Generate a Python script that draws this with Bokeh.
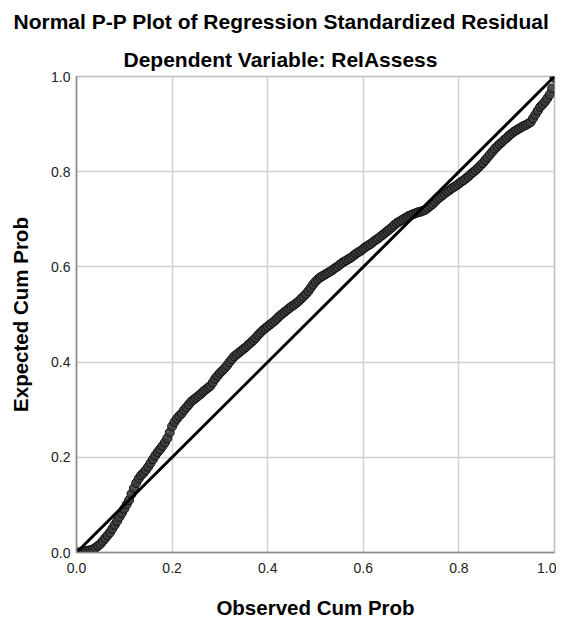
from bokeh.plotting import figure
from bokeh.models import Title, FixedTicker, CustomJSTickFormatter, Range1d, ColumnDataSource
from bokeh.embed import file_html
from bokeh.resources import INLINE

observed_cum_prob = [
    0.000, 0.005, 0.010, 0.015, 0.020, 0.025, 0.030, 0.035, 0.040, 0.045,
    0.050, 0.055, 0.060, 0.065, 0.070, 0.075, 0.080, 0.085, 0.090, 0.095,
    0.100, 0.105, 0.110, 0.115, 0.120, 0.125, 0.130, 0.135, 0.140, 0.145,
    0.150, 0.155, 0.160, 0.165, 0.170, 0.175, 0.180, 0.185, 0.190, 0.195,
    0.200, 0.205, 0.210, 0.215, 0.220, 0.225, 0.230, 0.235, 0.240, 0.245,
    0.250, 0.255, 0.260, 0.265, 0.270, 0.275, 0.280, 0.285, 0.290, 0.295,
    0.300, 0.305, 0.310, 0.315, 0.320, 0.325, 0.330, 0.335, 0.340, 0.345,
    0.350, 0.355, 0.360, 0.365, 0.370, 0.375, 0.380, 0.385, 0.390, 0.395,
    0.400, 0.405, 0.410, 0.415, 0.420, 0.425, 0.430, 0.435, 0.440, 0.445,
    0.450, 0.455, 0.460, 0.465, 0.470, 0.475, 0.480, 0.485, 0.490, 0.495,
    0.500, 0.505, 0.510, 0.515, 0.520, 0.525, 0.530, 0.535, 0.540, 0.545,
    0.550, 0.555, 0.560, 0.565, 0.570, 0.575, 0.580, 0.585, 0.590, 0.595,
    0.600, 0.605, 0.610, 0.615, 0.620, 0.625, 0.630, 0.635, 0.640, 0.645,
    0.650, 0.655, 0.660, 0.665, 0.670, 0.675, 0.680, 0.685, 0.690, 0.695,
    0.700, 0.705, 0.710, 0.715, 0.720, 0.725, 0.730, 0.735, 0.740, 0.745,
    0.750, 0.755, 0.760, 0.765, 0.770, 0.775, 0.780, 0.785, 0.790, 0.795,
    0.800, 0.805, 0.810, 0.815, 0.820, 0.825, 0.830, 0.835, 0.840, 0.845,
    0.850, 0.855, 0.860, 0.865, 0.870, 0.875, 0.880, 0.885, 0.890, 0.895,
    0.900, 0.905, 0.910, 0.915, 0.920, 0.925, 0.930, 0.935, 0.940, 0.945,
    0.950, 0.955, 0.960, 0.965, 0.970, 0.975, 0.980, 0.985, 0.990, 0.995,
    1.000]
expected_cum_prob = [
    0.000, 0.000, 0.001, 0.002, 0.003, 0.004, 0.005, 0.007, 0.010, 0.014,
    0.018, 0.024, 0.030, 0.036, 0.042, 0.050, 0.058, 0.066, 0.075, 0.083,
    0.092, 0.101, 0.110, 0.123, 0.135, 0.146, 0.155, 0.162, 0.167, 0.173,
    0.180, 0.188, 0.196, 0.204, 0.211, 0.217, 0.224, 0.231, 0.240, 0.252,
    0.265, 0.274, 0.281, 0.287, 0.292, 0.299, 0.305, 0.311, 0.317, 0.321,
    0.325, 0.329, 0.333, 0.338, 0.342, 0.346, 0.350, 0.357, 0.365, 0.371,
    0.377, 0.382, 0.387, 0.393, 0.400, 0.406, 0.412, 0.416, 0.420, 0.424,
    0.428, 0.432, 0.437, 0.441, 0.446, 0.451, 0.457, 0.462, 0.467, 0.471,
    0.475, 0.479, 0.483, 0.487, 0.492, 0.497, 0.501, 0.505, 0.509, 0.513,
    0.517, 0.520, 0.524, 0.528, 0.533, 0.538, 0.543, 0.549, 0.556, 0.563,
    0.569, 0.574, 0.578, 0.581, 0.584, 0.587, 0.590, 0.593, 0.597, 0.600,
    0.604, 0.608, 0.611, 0.614, 0.617, 0.620, 0.624, 0.628, 0.631, 0.634,
    0.638, 0.642, 0.645, 0.648, 0.652, 0.656, 0.659, 0.663, 0.667, 0.671,
    0.675, 0.679, 0.683, 0.688, 0.692, 0.695, 0.698, 0.701, 0.704, 0.707,
    0.709, 0.711, 0.713, 0.715, 0.716, 0.718, 0.720, 0.724, 0.728, 0.732,
    0.737, 0.742, 0.746, 0.750, 0.754, 0.758, 0.761, 0.765, 0.768, 0.771,
    0.775, 0.779, 0.782, 0.786, 0.790, 0.795, 0.799, 0.803, 0.808, 0.813,
    0.818, 0.824, 0.830, 0.836, 0.842, 0.848, 0.853, 0.858, 0.862, 0.867,
    0.871, 0.876, 0.880, 0.884, 0.887, 0.890, 0.893, 0.896, 0.898, 0.901,
    0.904, 0.912, 0.920, 0.928, 0.936, 0.941, 0.947, 0.954, 0.962, 0.975,
    0.997]
reference_line = [0.0, 1.0]
tick_values = [0.0, 0.2, 0.4, 0.6, 0.8, 1.0]

FONT = "Liberation Sans"

p = figure(output_backend="svg", toolbar_location=None,
           frame_width=478, frame_height=476,
           x_range=Range1d(0, 1), y_range=Range1d(0, 1),
           min_border_left=76, min_border_right=2, min_border_top=2, min_border_bottom=10)

p.title.text = "Normal P-P Plot of Regression Standardized Residual"
p.title.align = "left"
p.title.offset = -63
p.title.text_font = FONT
p.title.text_font_size = "21px"
p.title.text_font_style = "bold"
p.title.text_color = "#000000"
p.title.standoff = 15

sub_title = Title(text="Dependent Variable: RelAssess",
                  align="left", offset=47, text_font=FONT, text_font_size="21px",
                  text_font_style="bold", text_color="#000000", standoff=11)
p.add_layout(sub_title, "above")

p.background_fill_color = "white"
p.border_fill_color = "white"
p.outline_line_color = "#bdbdbd"
p.outline_line_width = 1.5

for ax in (p.xaxis[0], p.yaxis[0]):
    ax.ticker = FixedTicker(ticks=tick_values)
    ax.formatter = CustomJSTickFormatter(code="return tick.toFixed(1);")
    ax.major_label_text_font = FONT
    ax.major_label_text_font_size = "14px"
    ax.major_label_text_color = "#222222"
    ax.axis_label_text_font = FONT
    ax.axis_label_text_font_size = "20.5px"
    ax.axis_label_text_font_style = "bold"
    ax.axis_label_text_color = "#000000"
    ax.axis_line_color = "#8a8a8a"
    ax.axis_line_width = 1.5
    ax.major_tick_line_color = None
    ax.minor_tick_line_color = None
    ax.major_tick_out = 0
    ax.major_tick_in = 0

p.xaxis.axis_label = "Observed Cum Prob"
p.yaxis.axis_label = "Expected Cum Prob"
p.xaxis.major_label_standoff = 10
p.yaxis.major_label_standoff = 6
p.xaxis.axis_label_standoff = 20
p.yaxis.axis_label_standoff = 16

p.xgrid.ticker = FixedTicker(ticks=tick_values)
p.ygrid.ticker = FixedTicker(ticks=tick_values)
p.grid.grid_line_color = "#d0d0d0"
p.grid.grid_line_width = 1.5

src = ColumnDataSource(data=dict(x=observed_cum_prob, y=expected_cum_prob))
p.scatter("x", "y", source=src, size=9, fill_color="#3c3c3c", fill_alpha=0.9,
          line_color="#111111", line_width=1)
p.line(reference_line, reference_line, line_color="#000000", line_width=3)

open("out.html", "w").write(file_html(p, INLINE))
